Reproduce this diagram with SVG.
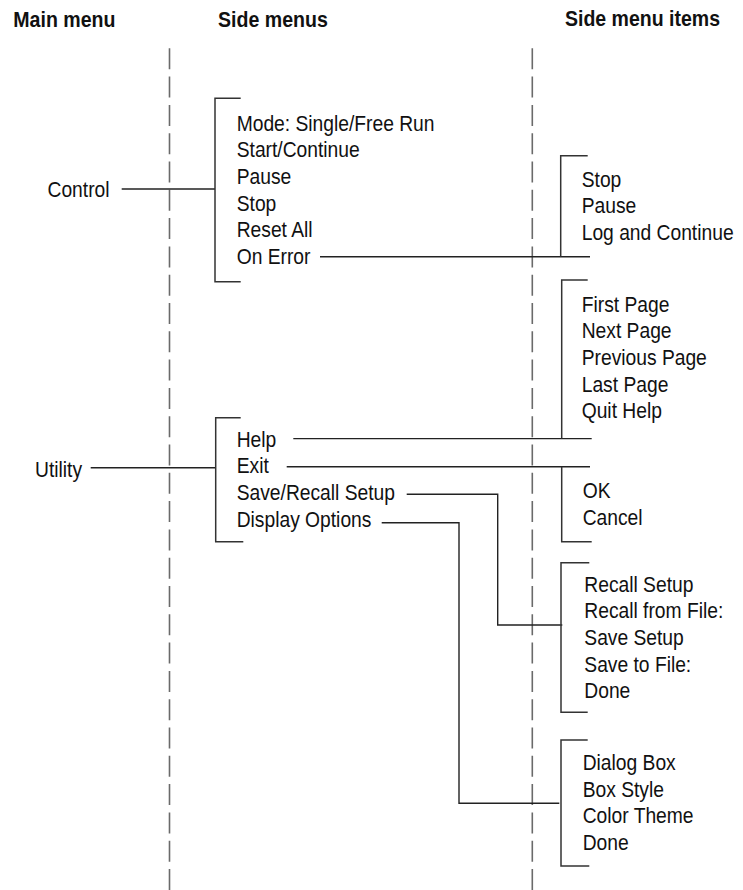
<svg xmlns="http://www.w3.org/2000/svg" width="743" height="890" viewBox="0 0 743 890">
<style>
text{font-family:"Liberation Sans",Arial,sans-serif;font-size:22px;fill:#111}
.h{font-weight:bold}
.guide{stroke:#6a6a6a;stroke-width:1.6;stroke-dasharray:21 7.3;fill:none}
.br{stroke:#333;stroke-width:1.5;fill:none}
.cn{stroke:#222;stroke-width:1.4;fill:none}
</style>
<rect width="743" height="890" fill="#fff"/>
<g id="headers">
<text class="h" transform="translate(13.3 27.3) scale(0.89 1)">Main menu</text>
<text class="h" transform="translate(218 27.3) scale(0.89 1)">Side menus</text>
<text class="h" transform="translate(565 26) scale(0.887 1)">Side menu items</text>
</g>
<g id="guides">
<line class="guide" x1="169.5" y1="48.3" x2="169.5" y2="890"/>
<line class="guide" x1="532.3" y1="48.3" x2="532.3" y2="890"/>
</g>
<g id="connectors">
<path class="cn" d="M121.7,189 H215"/>
<path class="cn" d="M320,256.7 H590"/>
<path class="cn" d="M90.7,467.7 H215.7"/>
<path class="cn" d="M293.3,438.6 H591.7"/>
<path class="cn" d="M286.7,466.7 H590"/>
<path class="cn" d="M406.7,494.3 H497.7 V625 H562.3"/>
<path class="cn" d="M381.7,522.7 H459 V803.3 H559.3"/>
</g>
<g id="main-control">
<text transform="translate(47.5 197) scale(0.875 1)">Control</text>
</g>
<g id="main-utility">
<text transform="translate(35 476.7) scale(0.875 1)">Utility</text>
</g>
<g id="side-control">
<path class="br" d="M240.7,98.3 H215 V281.7 H240.7"/>
<text transform="translate(236.7 130.5) scale(0.875 1)">Mode: Single/Free Run</text>
<text transform="translate(236.7 157.2) scale(0.875 1)">Start/Continue</text>
<text transform="translate(236.7 183.9) scale(0.875 1)">Pause</text>
<text transform="translate(236.7 210.6) scale(0.875 1)">Stop</text>
<text transform="translate(236.7 237.3) scale(0.875 1)">Reset All</text>
<text transform="translate(236.7 264) scale(0.875 1)">On Error</text>
</g>
<g id="side-utility">
<path class="br" d="M240.7,417.7 H215.7 V541.7 H243.3"/>
<text transform="translate(236.7 446.7) scale(0.875 1)">Help</text>
<text transform="translate(236.7 473.3) scale(0.875 1)">Exit</text>
<text transform="translate(236.7 500) scale(0.875 1)">Save/Recall Setup</text>
<text transform="translate(236.7 526.7) scale(0.875 1)">Display Options</text>
</g>
<g id="items-on-error">
<path class="br" d="M587.7,155.7 H560.7 V256.7"/>
<text transform="translate(581.7 186.7) scale(0.875 1)">Stop</text>
<text transform="translate(581.7 213.3) scale(0.875 1)">Pause</text>
<text transform="translate(581.7 240) scale(0.875 1)">Log and Continue</text>
</g>
<g id="items-help">
<path class="br" d="M587.7,280 H561.7 V438.6"/>
<text transform="translate(581.7 311.7) scale(0.875 1)">First Page</text>
<text transform="translate(581.7 338.3) scale(0.875 1)">Next Page</text>
<text transform="translate(581.7 365) scale(0.875 1)">Previous Page</text>
<text transform="translate(581.7 391.7) scale(0.875 1)">Last Page</text>
<text transform="translate(581.7 418.3) scale(0.875 1)">Quit Help</text>
</g>
<g id="items-exit">
<path class="br" d="M561.7,466.7 V541.7 H591.7"/>
<text transform="translate(582.7 498.3) scale(0.875 1)">OK</text>
<text transform="translate(582.7 525) scale(0.875 1)">Cancel</text>
</g>
<g id="items-save-recall">
<path class="br" d="M589.3,562.7 H561 V712.3 H587.7"/>
<text transform="translate(584.3 591.7) scale(0.875 1)">Recall Setup</text>
<text transform="translate(584.3 618.3) scale(0.875 1)">Recall from File:</text>
<text transform="translate(584.3 645) scale(0.875 1)">Save Setup</text>
<text transform="translate(584.3 671.7) scale(0.875 1)">Save to File:</text>
<text transform="translate(584.3 698.3) scale(0.875 1)">Done</text>
</g>
<g id="items-display">
<path class="br" d="M587.7,740 H561 V866 H589.3"/>
<text transform="translate(582.7 770) scale(0.875 1)">Dialog Box</text>
<text transform="translate(582.7 796.7) scale(0.875 1)">Box Style</text>
<text transform="translate(582.7 823.3) scale(0.875 1)">Color Theme</text>
<text transform="translate(582.7 850) scale(0.875 1)">Done</text>
</g>
</svg>
